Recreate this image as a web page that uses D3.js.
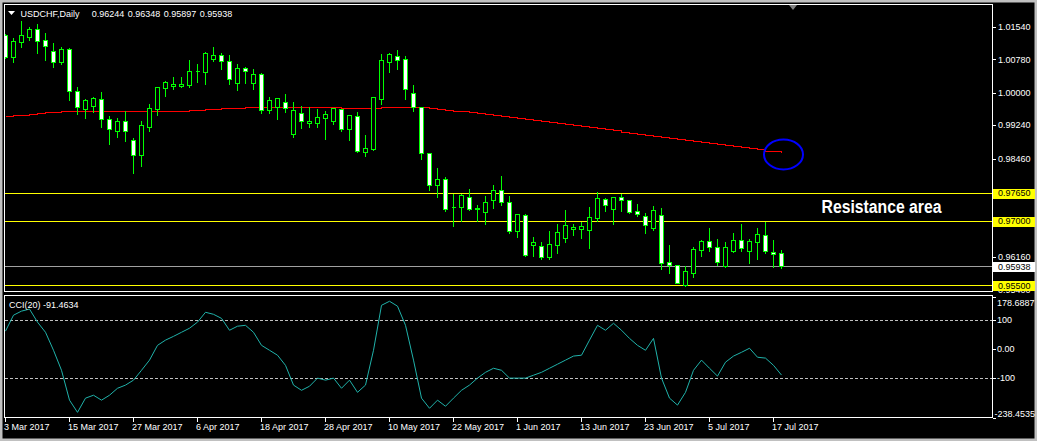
<!DOCTYPE html>
<html><head><meta charset="utf-8">
<script src="https://cdn.jsdelivr.net/npm/d3@7"></script>
<style>
html,body{margin:0;padding:0;background:#000;overflow:hidden}
svg{display:block}
text{font-family:"Liberation Sans",Arial,sans-serif;font-size:9px;fill:#fff}
</style></head><body>
<svg id="c" width="1037" height="441"></svg>
<script>
const symbol = "USDCHF,Daily";
const lastOHLC = [0.96244, 0.96348, 0.95897, 0.95938];
const open = [1.0135,1.0084,1.0118,1.0131,1.0148,1.0122,1.0097,1.0072,1.0101,1.0003,
0.9962,0.9969,0.9984,0.9938,0.9911,0.9933,0.9889,0.9855,0.9920,0.9962,
1.0010,1.0015,1.0015,1.0017,1.0050,1.0049,1.0079,1.0087,1.0073,1.0023,
1.0057,1.0023,1.0043,0.9959,0.9966,0.9977,0.9904,0.9953,0.9930,0.9930,
0.9941,0.9933,0.9961,0.9916,0.9945,0.9862,0.9869,0.9986,1.0072,1.0085,
1.0078,0.9998,0.9966,0.9858,0.9785,0.9798,0.9732,0.9732,0.9756,0.9727,
0.9720,0.9748,0.9772,0.9744,0.9676,0.9713,0.9643,0.9641,0.9617,0.9645,
0.9661,0.9681,0.9681,0.9678,0.9708,0.9751,0.9727,0.9756,0.9749,0.9723,
0.9711,0.9683,0.9713,0.9604,0.9597,0.9550,0.9579,0.9632,0.9653,0.9639,
0.9596,0.9631,0.9655,0.9631,0.9650,0.9667,0.9628,0.96244];
const high = [1.0139,1.0129,1.0170,1.0156,1.0162,1.0141,1.0118,1.0109,1.0106,1.0015,
0.9987,0.9992,1.0004,0.9948,0.9942,0.9959,0.9896,0.9936,0.9975,1.0015,
1.0030,1.0039,1.0039,1.0078,1.0069,1.0097,1.0109,1.0095,1.0090,1.0070,
1.0062,1.0057,1.0048,0.9992,0.9990,0.9998,0.9980,0.9971,0.9969,0.9965,
0.9959,0.9966,0.9963,0.9948,0.9957,0.9903,0.9991,1.0093,1.0095,1.0102,
1.0088,1.0020,0.9967,0.9862,0.9826,0.9805,0.9765,0.9765,0.9777,0.9739,
0.9761,0.9786,0.9808,0.9761,0.9718,0.9718,0.9665,0.9653,0.9678,0.9695,
0.9728,0.9695,0.9699,0.9735,0.9770,0.9757,0.9758,0.9765,0.9751,0.9742,
0.9720,0.9737,0.9732,0.9646,0.9599,0.9597,0.9642,0.9657,0.9687,0.9660,
0.9653,0.9674,0.9696,0.9660,0.9685,0.9700,0.9658,0.96348];
const low = [1.0081,1.0072,1.0107,1.0123,1.0092,1.0076,1.0061,1.0067,0.9983,0.9950,
0.9941,0.9955,0.9920,0.9881,0.9897,0.9888,0.9813,0.9829,0.9911,0.9948,
0.9993,1.0008,1.0012,1.0012,1.0025,1.0020,1.0075,1.0056,1.0020,1.0006,
1.0023,1.0008,0.9953,0.9952,0.9938,0.9955,0.9897,0.9918,0.9919,0.9919,
0.9892,0.9927,0.9911,0.9889,0.9861,0.9852,0.9866,0.9973,1.0048,1.0056,
0.9985,0.9958,0.9846,0.9773,0.9757,0.9724,0.9689,0.9700,0.9726,0.9699,
0.9694,0.9730,0.9737,0.9671,0.9663,0.9618,0.9618,0.9612,0.9611,0.9626,
0.9651,0.9668,0.9661,0.9637,0.9701,0.9724,0.9694,0.9724,0.9719,0.9711,
0.9673,0.9679,0.9589,0.9578,0.9554,0.9549,0.9569,0.9619,0.9631,0.9598,
0.9593,0.9628,0.9630,0.9601,0.9612,0.9626,0.9593,0.95897];
const close = [1.0084,1.0120,1.0134,1.0148,1.0121,1.0110,1.0072,1.0101,1.0003,0.9966,
0.9982,0.9987,0.9938,0.9914,0.9934,0.9910,0.9855,0.9924,0.9963,1.0012,
1.0024,1.0019,1.0019,1.0050,1.0050,1.0092,1.0087,1.0073,1.0031,1.0057,
1.0050,1.0043,0.9959,0.9982,0.9987,0.9963,0.9959,0.9934,0.9934,0.9942,
0.9949,0.9964,0.9914,0.9947,0.9863,0.9870,0.9989,1.0076,1.0090,1.0077,
1.0009,0.9966,0.9858,0.9785,0.9798,0.9727,0.9732,0.9760,0.9729,0.9730,
0.9744,0.9772,0.9745,0.9676,0.9717,0.9621,0.9650,0.9617,0.9646,0.9674,
0.9690,0.9686,0.9688,0.9709,0.9753,0.9738,0.9756,0.9749,0.9722,0.9716,
0.9690,0.9725,0.9601,0.9597,0.9556,0.9583,0.9634,0.9653,0.9639,0.9604,
0.9639,0.9655,0.9636,0.9653,0.9670,0.9631,0.9623,0.95938];
const ma = [0.99447,0.9947,0.9947,0.99494,0.99517,0.9954,0.9954,0.99564,0.99564,0.99564,
0.99564,0.99564,0.99564,0.99564,0.99564,0.99564,0.99564,0.99564,0.99564,0.99564,
0.99564,0.99564,0.99564,0.99587,0.99587,0.9961,0.9961,0.99634,0.99634,0.99634,
0.99657,0.99657,0.99657,0.99657,0.99657,0.99657,0.99657,0.99657,0.99657,0.99657,
0.99657,0.99657,0.99634,0.99634,0.99634,0.99634,0.99634,0.99657,0.99657,0.99657,
0.99657,0.99657,0.99653,0.99634,0.99617,0.99594,0.9957,0.9957,0.99547,0.99524,
0.99501,0.99477,0.99454,0.99431,0.99407,0.99384,0.99361,0.99337,0.99314,0.99283,
0.9926,0.99237,0.99213,0.99188,0.99162,0.99139,0.99115,0.9909,0.99066,0.9904,
0.99017,0.98991,0.98968,0.98942,0.98919,0.98893,0.9887,0.98844,0.98821,0.98795,
0.98772,0.98746,0.98723,0.98695,0.98671,0.98643,0.98625,0.98606];
const cci = [60,115,129,136,91,56,-6,-75,-178,-220,
-171,-161,-178,-161,-137,-126,-109,-75,-40,11,
29,42,56,70,91,125,118,104,63,77,
80,56,11,-6,-23,-58,-126,-144,-130,-102,
-109,-102,-137,-109,-151,-126,-6,149,163,146,
80,-40,-171,-206,-178,-199,-171,-144,-126,-102,
-82,-68,-75,-102,-102,-102,-92,-82,-68,-54,
-40,-26,-23,29,80,63,87,63,35,11,
-6,35,-102,-171,-195,-151,-75,-40,-68,-95,
-47,-26,-13,1,-30,-33,-58,-91.4634];
const dateLabels = ["3 Mar 2017","15 Mar 2017","27 Mar 2017","6 Apr 2017","18 Apr 2017","28 Apr 2017","10 May 2017","22 May 2017","1 Jun 2017","13 Jun 2017","23 Jun 2017","5 Jul 2017","17 Jul 2017"];
const dateIndex = [0,8,16,24,32,40,48,56,64,72,80,88,96];
const priceTicks = [1.0154,1.0078,1.0000,0.9924,0.9846,0.9769,0.9694,0.9616,0.9540];
const levels = [0.9765,0.9700,0.9550];
const cciTicks = [178.6887,100,0,-100,-238.4535];
const cciLevels = [100,-100];
const annotation = "Resistance area";

const svg = d3.select("#c");
const W = 1037, H = 441;
const L = 4.5, R = 992.5, PT = 4.5, PB = 291.5, CT = 295.5, CB = 417.5;

svg.append("rect").attr("width",W).attr("height",H).attr("fill","#000");
// outer window frame
svg.append("rect").attr("x",1).attr("y",1).attr("width",W-2).attr("height",H-2)
  .attr("fill","none").attr("stroke","#c0c0c0").attr("stroke-width",3);

const x = d3.scaleLinear().domain([0,97]).range([5.5,781.5]);
const y = d3.scaleLinear().domain([0.9550,1.0154]).range([285.2,26.7]);
const yc = d3.scaleLinear().domain([-238.4535,178.6887]).range([417.7,296.7]);
const py = v => Math.round(y(v)) + 0.5;
const pyc = v => Math.round(yc(v)) + 0.5;

const defs = svg.append("defs");
defs.append("clipPath").attr("id","pc").append("rect").attr("x",L+0.5).attr("y",PT+0.5).attr("width",R-L-1).attr("height",PB-PT-1);
defs.append("clipPath").attr("id","cc").append("rect").attr("x",L+0.5).attr("y",CT+0.5).attr("width",R-L-1).attr("height",CB-CT-1);

const pg = svg.append("g").attr("clip-path","url(#pc)").attr("shape-rendering","crispEdges");

// MA line
const maLine = d3.line().x((d,i)=>x(i)).y(d=>py(d)).curve(d3.curveStepAfter);
pg.append("path").datum(ma).attr("d",maLine).attr("fill","none").attr("stroke","#ff0000").attr("stroke-width",1);

// level lines
levels.forEach(l=>{
  pg.append("line").attr("x1",L).attr("x2",R).attr("y1",py(l)).attr("y2",py(l)).attr("stroke","#ffff00");
});
pg.append("line").attr("x1",L).attr("x2",R).attr("y1",py(lastOHLC[3])).attr("y2",py(lastOHLC[3])).attr("stroke","#a0a0a0");

// candles
const idx = d3.range(open.length);
pg.selectAll("line.wick").data(idx).join("line").attr("class","wick")
  .attr("x1",i=>x(i)).attr("x2",i=>x(i)).attr("y1",i=>py(high[i])).attr("y2",i=>py(low[i]))
  .attr("stroke","#00ff00");
pg.selectAll("path.body").data(idx).join("path").attr("class","body")
  .attr("d",i=>{
    const t = py(Math.max(open[i],close[i])), b = py(Math.min(open[i],close[i]));
    const cx = x(i);
    return `M${cx-2},${t}H${cx+2}V${b}H${cx-2}Z`;
  })
  .attr("fill",i=>close[i]<open[i]?"#ffffff":"#000000")
  .attr("stroke","#00ff00");

// annotation ellipse
pg.append("ellipse").attr("cx",x(97.25)).attr("cy",y(0.98555)).attr("rx",19.5).attr("ry",15)
  .attr("fill","none").attr("stroke","#0000ff").attr("stroke-width",2).attr("shape-rendering","auto");

svg.append("text").attr("x",x(102)).attr("y",y(0.97188)).text(annotation)
  .style("font-size","18px").style("font-weight","bold").attr("textLength",120).attr("lengthAdjust","spacingAndGlyphs");

// frames
svg.append("rect").attr("x",L).attr("y",PT).attr("width",R-L).attr("height",PB-PT).attr("fill","none").attr("stroke","#fff").attr("shape-rendering","crispEdges");
svg.append("rect").attr("x",L).attr("y",CT).attr("width",R-L).attr("height",CB-CT).attr("fill","none").attr("stroke","#fff").attr("shape-rendering","crispEdges");

// price axis
const ax = svg.append("g").attr("shape-rendering","crispEdges");
priceTicks.forEach(t=>{
  ax.append("line").attr("x1",R).attr("x2",R+3.5).attr("y1",py(t)).attr("y2",py(t)).attr("stroke","#fff");
  ax.append("text").attr("x",998).attr("y",y(t)+3.3).text(t.toFixed(5));
});
levels.forEach(l=>{
  ax.append("rect").attr("x",993).attr("y",Math.round(y(l))-4.5).attr("width",42).attr("height",10).attr("fill","#ffff00");
  ax.append("text").attr("x",998).attr("y",y(l)+3.3).text(l.toFixed(5)).style("fill","#000");
});
ax.append("rect").attr("x",993).attr("y",Math.round(y(lastOHLC[3]))-4.5).attr("width",42).attr("height",10).attr("fill","#ffffff");
ax.append("text").attr("x",998).attr("y",y(lastOHLC[3])+3.3).text(lastOHLC[3].toFixed(5)).style("fill","#000");

// header
svg.append("polygon").attr("points","8,11 15,11 11.5,15").attr("fill","#fff");
svg.append("text").attr("x",20.5).attr("y",16.5).text(symbol);
lastOHLC.forEach((v,j)=>{
  svg.append("text").attr("x",91.7+36*j).attr("y",16.5).text(v.toFixed(5));
});
svg.append("polygon").attr("points","789,5 797,5 793,10").attr("fill","#808080");

// CCI panel
const cg = svg.append("g").attr("clip-path","url(#cc)");
cciLevels.forEach(l=>{
  cg.append("line").attr("x1",L).attr("x2",R).attr("y1",pyc(l)).attr("y2",pyc(l))
    .attr("stroke","#c0c0c0").attr("stroke-dasharray","3,2").attr("shape-rendering","crispEdges");
});
cg.append("path").datum(cci).attr("d",d3.line().x((d,i)=>x(i)).y(d=>yc(d)))
  .attr("fill","none").attr("stroke","#20b2aa").attr("stroke-width",1);
svg.append("text").attr("x",9).attr("y",308).text("CCI(20) " + cci[cci.length-1].toFixed(4));
cciTicks.forEach((t,j)=>{
  ax.append("line").attr("x1",R).attr("x2",R+3.5).attr("y1",pyc(t)).attr("y2",pyc(t)).attr("stroke","#fff");
  let ty = yc(t)+3.3;
  if (j===0) ty = 305.5;
  if (j===cciTicks.length-1) ty = 416.5;
  const lab = (t===0) ? "0.00" : (Number.isInteger(t) ? String(t) : t.toFixed(4));
  ax.append("text").attr("x",j===cciTicks.length-1?994.5:997).attr("y",ty).text(lab);
});

// time axis
dateIndex.forEach((i,j)=>{
  ax.append("line").attr("x1",Math.floor(x(i))+0.5).attr("x2",Math.floor(x(i))+0.5).attr("y1",CB).attr("y2",CB+4).attr("stroke","#fff");
  ax.append("text").attr("x",x(i)-1.5).attr("y",430).text(dateLabels[j]);
});
</script>
</body></html>
